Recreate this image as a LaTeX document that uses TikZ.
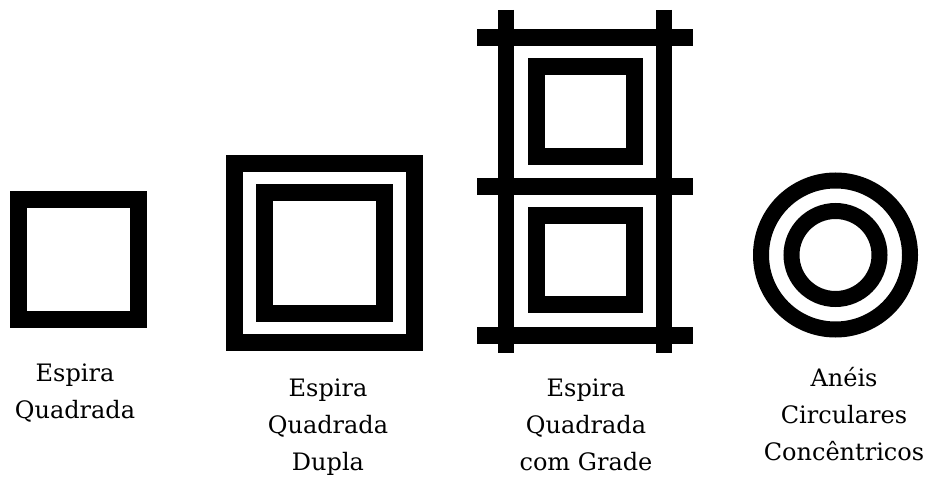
\documentclass[tikz,border=0pt]{standalone}
\usepackage{fontspec}
\setmainfont{DejaVu Serif}
\usepackage{tikz}

\begin{document}
\begin{tikzpicture}[x=1pt, y=-1pt, line width=17pt,
    legenda/.style={align=center, anchor=base, inner sep=0pt, font=\fontsize{24}{37}\selectfont}]
    \useasboundingbox (0,0) rectangle (929,484);
    % espira quadrada
    \draw (18.5,199.5) rectangle (138.5,319.5);
    % espira quadrada dupla
    \draw (234.5,163.5) rectangle (414.5,342.5);
    \draw (264.5,192.5) rectangle (384.5,313.5);
    % espira quadrada com grade
    \draw[line width=16pt] (505.5,10) coordinate (G1) -- (505.5,353) coordinate (G2);
    \draw[line width=16pt] (664,10) coordinate (G3) -- (664,353) coordinate (G4);
    \draw (477,38) -- (693,38);
    \draw (477,186.5) -- (693,186.5);
    \draw (477,335) -- (693,335);
    \draw (536.5,66.5) rectangle (634.5,156.5);
    \draw (536.5,215.5) rectangle (634.5,304.5);
    % aneis concentricos
    \draw[line width=16pt] (835.5,255) coordinate (O) circle (74.5);
    \draw[line width=16pt] (O) circle (44);
    % legendas (base = ultima linha)
    \node[legenda] (l1) at (75,418) {Espira\\Quadrada};
    \node[legenda] (l2) at (328,470) {Espira\\Quadrada\\Dupla};
    \node[legenda] (l3) at (586,470) {Espira\\Quadrada\\com Grade};
    \node[legenda] (l4) at (844,460) {Anéis\\Circulares\\Concêntricos};
\end{tikzpicture}
\end{document}
